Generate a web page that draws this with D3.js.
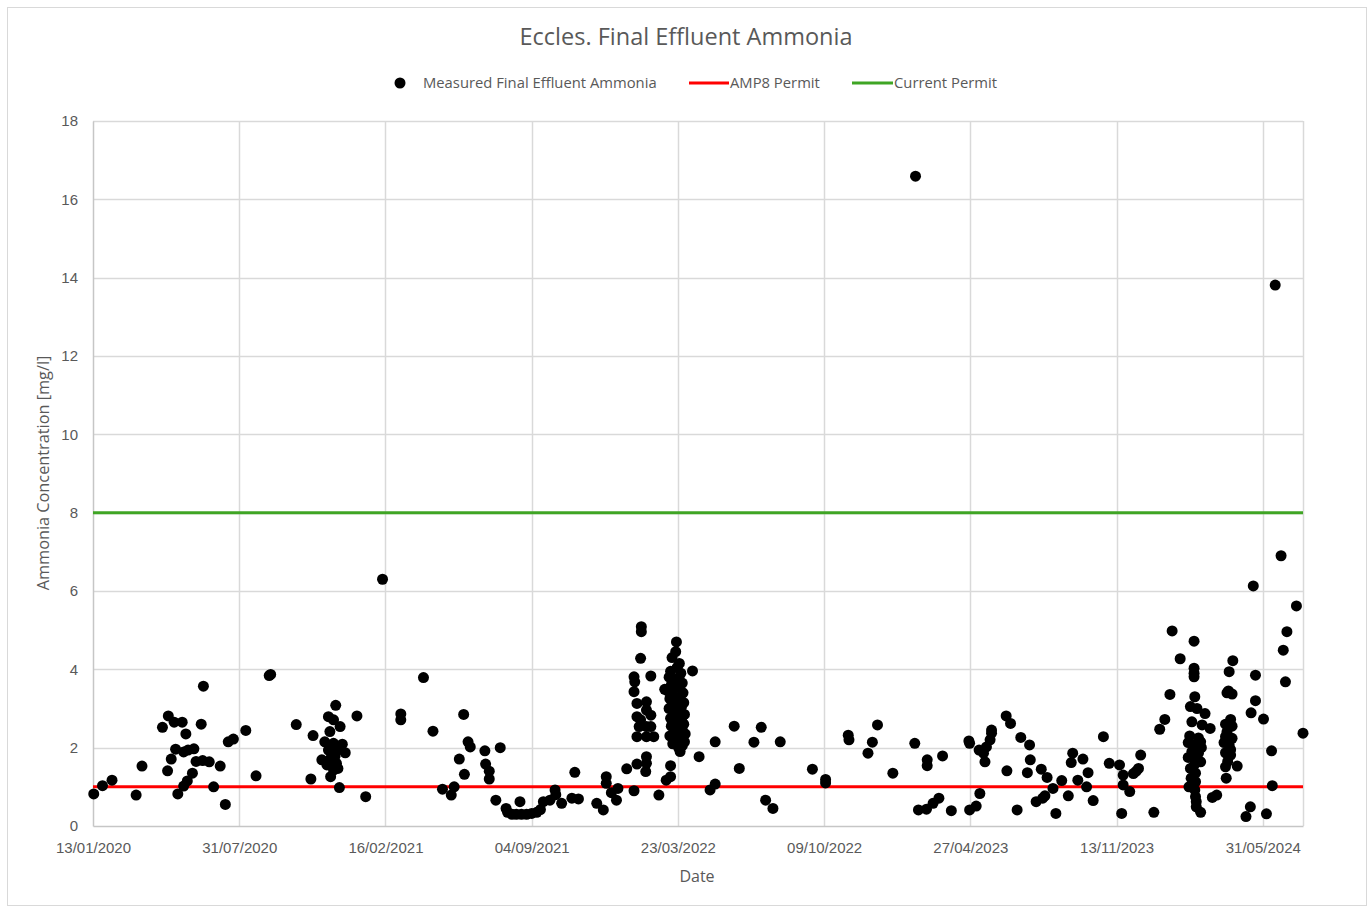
<!DOCTYPE html>
<html>
<head>
<meta charset="utf-8">
<script src="https://cdn.jsdelivr.net/npm/d3@7"></script>
<style>
  body { margin: 0; background: #fff; }
  text { fill: #595959; }
</style>
</head>
<body>
<svg id="chart"></svg>
<script>
const WIDTH = 1370;
const HEIGHT = 909;

// samples: days after 13/01/2020 and measured ammonia [mg/l]
const sampleDays = [
  1, 13, 26, 59, 67, 95, 103, 111, 122, 127, 148, 151, 113, 124, 130, 138, 107, 102, 141, 150,
  159, 174, 136, 129, 124, 116, 165, 181, 185, 192, 209, 223, 241, 243, 278,
  301, 298, 332, 322, 329, 338, 324, 317, 329, 341, 322, 335, 345, 313, 324, 333, 320, 329, 335,
  325, 326, 331, 337, 361, 373, 396, 421, 421, 452, 465, 478, 490, 494, 501, 508, 507, 513, 516,
  536, 537, 542, 542, 557, 551,
  565, 567, 573, 579, 586, 593, 600, 607, 612, 584, 616, 625, 632, 633, 641, 655, 664, 659, 689,
  698, 702, 702, 709, 718, 716, 730, 740, 744, 757, 757, 756, 774, 750, 750, 749, 763, 740, 741,
  740, 757, 744, 757, 744, 749, 763, 757, 747, 763, 744, 757, 767,
  798, 797, 792, 802, 799, 790, 804, 788, 797, 806, 791, 800, 782, 786, 807, 793, 803, 789, 796,
  808, 792, 805, 788, 801, 795, 809, 797, 790, 805, 793, 808, 791, 800, 806, 796, 810, 789, 803,
  798, 809, 793, 806, 801, 803, 790, 784, 790, 820, 829, 851, 844, 851,
  877, 884, 904, 914, 920, 930, 940, 984, 1002, 1002, 1033, 1034, 1073, 1066, 1060, 1094, 1124,
  1125, 1141, 1141, 1162, 1129, 1140, 1149, 1157, 1174,
  1199, 1208, 1213, 1198, 1199, 1212, 1218, 1220, 1222, 1227, 1229, 1229, 1249, 1255, 1250, 1264,
  1269, 1281, 1282, 1278, 1297, 1305, 1290, 1299, 1302, 1317, 1313, 1325, 1334, 1340, 1338, 1347,
  1354, 1361, 1359, 1368, 1382, 1390, 1404, 1409, 1409, 1418, 1407, 1423, 1430, 1433, 1427,
  1451, 1459, 1466, 1473, 1476, 1487,
  1506, 1506, 1506, 1506, 1507, 1501, 1510, 1521, 1503, 1517, 1528, 1498, 1505, 1515, 1503, 1512,
  1508, 1515, 1501, 1508, 1502, 1508, 1507, 1508, 1509, 1509, 1500, 1512, 1498, 1516, 1506, 1499,
  1515, 1531, 1537,
  1559, 1554, 1551, 1558, 1556, 1549, 1558, 1549, 1558, 1547, 1554, 1549, 1556, 1565, 1549, 1550,
  1553, 1551, 1556, 1552, 1590, 1590, 1584, 1601, 1587, 1625, 1646, 1633, 1628, 1631, 1655, 1612,
  1613, 1583, 1577, 1605, 1617
];
const ammonia = [
  0.82, 1.03, 1.17, 0.79, 1.53, 2.52, 2.81, 2.65, 2.65, 2.35, 2.6, 3.57, 1.96, 1.89, 1.94, 1.97, 1.71, 1.41, 1.65, 1.67,
  1.64, 1.53, 1.35, 1.15, 1.02, 0.82, 1.0, 0.55, 2.15, 2.22, 2.44, 1.28, 3.84, 3.87, 2.59,
  2.31, 1.2, 3.08, 2.79, 2.71, 2.54, 2.41, 2.15, 2.11, 2.09, 1.94, 1.96, 1.87, 1.69, 1.69, 1.6, 1.56, 1.43, 1.47,
  1.26, 1.85, 1.78, 0.98, 2.81, 0.75, 6.3, 2.86, 2.71, 3.79, 2.42, 0.94, 0.79, 1.0, 1.71, 1.32, 2.85, 2.15, 2.02,
  1.92, 1.58, 1.4, 1.2, 2.0, 0.66,
  0.45, 0.35, 0.3, 0.3, 0.3, 0.3, 0.32, 0.35, 0.42, 0.62, 0.62, 0.66, 0.92, 0.8, 0.58, 0.71, 0.69, 1.37, 0.58,
  0.41, 1.26, 1.09, 0.85, 0.96, 0.66, 1.46, 0.9, 1.58, 1.77, 1.6, 1.39, 0.79, 5.09, 4.96, 4.28, 3.83, 3.81, 3.68,
  3.43, 3.17, 3.13, 2.96, 2.79, 2.71, 2.83, 2.54, 2.54, 2.54, 2.28, 2.28, 2.28,
  4.7, 4.45, 4.3, 4.15, 4.05, 3.95, 3.9, 3.8, 3.75, 3.65, 3.6, 3.55, 3.49, 3.45, 3.4, 3.35, 3.3, 3.25, 3.2,
  3.15, 3.1, 3.05, 3.0, 2.95, 2.9, 2.85, 2.8, 2.75, 2.7, 2.65, 2.6, 2.55, 2.5, 2.45, 2.4, 2.35, 2.3, 2.25,
  2.2, 2.15, 2.1, 2.05, 2.0, 1.9, 1.54, 1.17, 1.26, 3.96, 1.77, 2.15, 0.92, 1.07,
  2.55, 1.47, 2.14, 2.52, 0.66, 0.45, 2.15, 1.45, 1.19, 1.1, 2.32, 2.2, 2.58, 2.14, 1.86, 1.35, 2.11,
  16.59, 1.69, 1.54, 1.79, 0.41, 0.43, 0.58, 0.71, 0.39,
  0.41, 0.51, 0.83, 2.17, 2.11, 1.94, 1.86, 1.64, 2.02, 2.2, 2.37, 2.45, 2.81, 2.62, 1.41, 0.41,
  2.26, 2.07, 1.69, 1.36, 1.45, 1.24, 0.62, 0.71, 0.77, 0.32, 0.96, 1.16, 0.77, 1.86, 1.62, 1.17,
  1.71, 1.36, 1.0, 0.65, 2.28, 1.6, 1.56, 1.3, 1.05, 0.88, 0.32, 1.34, 1.47, 1.81, 1.4,
  0.35, 2.47, 2.72, 3.36, 4.98, 4.27,
  4.72, 4.03, 3.9, 3.81, 3.3, 3.05, 3.0, 2.87, 2.66, 2.58, 2.49, 2.13, 2.07, 2.15, 1.9, 1.86,
  1.69, 1.64, 1.47, 1.35, 1.22, 1.13, 0.92, 0.75, 0.62, 0.49, 2.3, 2.25, 1.75, 2.0, 1.55, 1.0,
  0.35, 0.73, 0.79,
  4.22, 3.94, 3.4, 3.37, 2.72, 2.6, 2.55, 2.28, 2.24, 2.13, 2.07, 1.87, 1.81, 1.53, 1.51, 1.22,
  3.45, 2.4, 1.95, 1.65, 3.85, 3.2, 2.89, 2.73, 6.13, 6.9, 5.62, 4.96, 4.49, 3.68, 2.37, 1.92,
  1.03, 0.49, 0.24, 0.31, 13.81
];

const startDate = new Date(Date.UTC(2020, 0, 13));
const axisDays = 1655;      // axis runs to 25/07/2024
const tickStepDays = 200;   // Excel major unit
const yTicks = [0, 2, 4, 6, 8, 10, 12, 14, 16, 18];
const amp8Permit = 1;
const currentPermit = 8;

const seriesNames = ["Measured Final Effluent Ammonia", "AMP8 Permit", "Current Permit"];
const seriesColors = ["#000000", "#ff0000", "#3fa524"];

const margin = { top: 121, right: 67, bottom: 83, left: 93 };
const innerW = WIDTH - margin.left - margin.right;
const innerH = HEIGHT - margin.top - margin.bottom;

const svg = d3.select("#chart")
  .attr("width", WIDTH)
  .attr("height", HEIGHT)
  .style("font-family", "'Liberation Sans', Arial, sans-serif");

// outer chart border
svg.append("rect")
  .attr("x", 7.5).attr("y", 7.5)
  .attr("width", WIDTH - 11).attr("height", HEIGHT - 11)
  .attr("fill", "#fff")
  .attr("stroke", "#d9d9d9");

const data = sampleDays.map((d, i) => ({ date: d3.utcDay.offset(startDate, d), value: ammonia[i] }));

const x = d3.scaleUtc()
  .domain([startDate, d3.utcDay.offset(startDate, axisDays)])
  .range([0, innerW]);
const y = d3.scaleLinear().domain([0, 18]).range([innerH, 0]);

const xTicks = d3.range(0, axisDays, tickStepDays).map(d => d3.utcDay.offset(startDate, d));

const g = svg.append("g").attr("transform", `translate(${margin.left},${margin.top})`);

// gridlines
g.append("g")
  .selectAll("line.hgrid")
  .data(yTicks.slice(1))
  .join("line")
  .attr("x1", 0).attr("x2", innerW)
  .attr("y1", d => Math.round(y(d)) + 0.5).attr("y2", d => Math.round(y(d)) + 0.5)
  .attr("stroke", "#d9d9d9").attr("stroke-width", 1.5);

g.append("g")
  .selectAll("line.vgrid")
  .data(xTicks.slice(1).concat([x.domain()[1]]))
  .join("line")
  .attr("x1", d => Math.round(x(d)) + 0.5).attr("x2", d => Math.round(x(d)) + 0.5)
  .attr("y1", 0).attr("y2", innerH)
  .attr("stroke", "#d9d9d9").attr("stroke-width", 1.5);

// axes
const xAxis = g.append("g")
  .attr("transform", `translate(0,${innerH})`)
  .call(d3.axisBottom(x).tickValues(xTicks).tickFormat(d3.utcFormat("%d/%m/%Y")).tickSize(0).tickPadding(16));
const yAxis = g.append("g")
  .call(d3.axisLeft(y).tickValues(yTicks).tickSize(0).tickPadding(15));

[xAxis, yAxis].forEach(a => {
  a.select(".domain").attr("stroke", "#c6c6c6").attr("stroke-width", 1.5);
  a.selectAll("text")
    .style("font-family", "'Liberation Sans', Arial, sans-serif")
    .style("font-size", "15px")
    .attr("fill", "#595959");
});

// permit lines
g.append("line")
  .attr("x1", 0).attr("x2", innerW)
  .attr("y1", y(currentPermit)).attr("y2", y(currentPermit))
  .attr("stroke", seriesColors[2]).attr("stroke-width", 3);
g.append("line")
  .attr("x1", 0).attr("x2", innerW)
  .attr("y1", y(amp8Permit)).attr("y2", y(amp8Permit))
  .attr("stroke", seriesColors[1]).attr("stroke-width", 3);

// measurements
g.append("g")
  .selectAll("circle")
  .data(data)
  .join("circle")
  .attr("cx", d => x(d.date))
  .attr("cy", d => y(d.value))
  .attr("r", 5.5)
  .attr("fill", seriesColors[0]);

// title
svg.append("text")
  .attr("x", 686).attr("y", 45)
  .attr("text-anchor", "middle")
  .style("font-family", "'Open Sans', sans-serif")
  .style("font-size", "23.5px")
  .text("Eccles. Final Effluent Ammonia");

// axis titles
svg.append("text")
  .attr("x", margin.left + innerW / 2 - 1).attr("y", 882)
  .attr("text-anchor", "middle")
  .style("font-family", "'Open Sans', sans-serif")
  .style("font-size", "16px")
  .text("Date");

svg.append("text")
  .attr("transform", "translate(49,473) rotate(-90)")
  .attr("text-anchor", "middle")
  .style("font-family", "'Open Sans', sans-serif")
  .style("font-size", "16.3px")
  .text("Ammonia Concentration [mg/l]");

// legend
const legend = svg.append("g").style("font-family", "'Open Sans', sans-serif").style("font-size", "14.8px");
legend.append("circle").attr("cx", 400).attr("cy", 83).attr("r", 5.5).attr("fill", seriesColors[0]);
legend.append("text").attr("x", 423).attr("y", 88).text(seriesNames[0]);
legend.append("line").attr("x1", 689).attr("x2", 729).attr("y1", 83).attr("y2", 83)
  .attr("stroke", seriesColors[1]).attr("stroke-width", 3);
legend.append("text").attr("x", 730).attr("y", 88).text(seriesNames[1]);
legend.append("line").attr("x1", 852).attr("x2", 893).attr("y1", 83).attr("y2", 83)
  .attr("stroke", seriesColors[2]).attr("stroke-width", 3);
legend.append("text").attr("x", 894).attr("y", 88).text(seriesNames[2]);
</script>
</body>
</html>
